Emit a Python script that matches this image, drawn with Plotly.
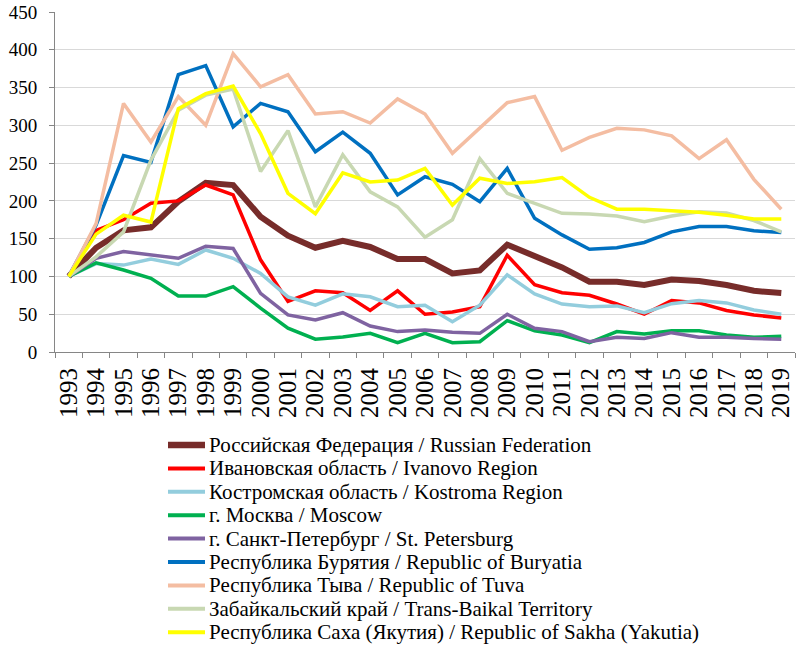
import plotly.graph_objects as go

years = [str(y) for y in range(1993, 2020)]

russia = [100, 138, 161, 165, 199, 224, 221, 179, 154, 138, 147, 139, 123, 123, 104, 108, 142, 127,
          112, 93, 93, 88.6, 96, 94, 88.6, 81, 78]
ivanovo = [100, 161, 175, 197, 200, 221, 208, 122, 67, 81, 78.5, 55, 81, 50, 53, 60, 128, 89,
           78.5, 75, 63.5, 50, 68, 65, 55, 49, 45]
kostroma = [100, 117, 115, 123, 116, 135, 124, 104, 73, 62, 77, 73, 60, 62, 40, 62, 102, 77,
            63.5, 60, 61, 52, 64, 68, 65, 55.6, 50]
moscow = [100, 118, 108.5, 97.5, 74, 74, 86.5, 58, 31.5, 17, 20, 24.7, 12.4, 24.7, 12.4, 13.7, 41.5, 28,
          22.5, 12.4, 27, 23.8, 28, 28, 22.5, 19.4, 21]
spb = [100, 124, 133, 129, 124, 140, 137, 77.6, 49, 42.4, 52, 34.4, 27, 29, 26, 24.7, 50, 31.3,
       27, 13.7, 19.4, 18, 25.6, 19.4, 19.4, 18, 16.8]
buryatia = [100, 168, 260, 251, 367, 379, 298, 329, 318, 265, 291, 263, 208, 232, 222, 199, 243, 177,
            155, 136, 138, 145, 159, 166, 166, 160.6, 158]
tuva = [100, 170, 329, 278, 338, 300, 395, 351, 367, 315, 318, 303, 335, 315, 263, 296, 330, 338,
        267, 284, 296, 294, 286, 256, 281, 228.5, 189]
zabaikal = [100, 126, 159, 254, 320, 340, 348, 239, 293, 192, 261, 212, 192, 152, 175, 256, 210, 197,
            183.5, 182.6, 180, 172.5, 180, 185.7, 184, 174, 159]
sakha = [100, 156, 181, 172, 322, 342, 352, 289, 210, 183, 237, 225, 227.6, 243, 194.5, 230, 223, 225.4,
         231, 204.7, 189, 189, 187, 185, 181, 176, 176]

names = [
    "Российская Федерация / Russian Federation",
    "Ивановская область / Ivanovo Region",
    "Костромская область / Kostroma Region",
    "г. Москва / Moscow",
    "г. Санкт-Петербург / St. Petersburg",
    "Республика Бурятия / Republic of Buryatia",
    "Республика Тыва / Republic of Tuva",
    "Забайкальский край / Trans-Baikal Territory",
    "Республика Саха (Якутия) / Republic of Sakha (Yakutia)",
]
series = [russia, ivanovo, kostroma, moscow, spb, buryatia, tuva, zabaikal, sakha]
colors = ["#772C2A", "#FF0000", "#93CDDD", "#00B050", "#7F63A1", "#0070C0", "#F4BDA2", "#C8D8B2", "#FFFF00"]
widths = [6, 3.5, 3.5, 3.5, 3.5, 3.5, 3.5, 3.5, 3.5]

FONT = "Liberation Serif, Times New Roman, serif"

W, H = 798, 647
L, R, T, B = 55, 3, 12, 295
PW, PH = W - L - R, H - T - B

fig = go.Figure()
for n, s, c, w in zip(names, series, colors, widths):
    fig.add_trace(go.Scatter(x=years, y=s, name=n, mode="lines",
                             line=dict(color=c, width=w), showlegend=False))

# Legend below the plot, laid out in paper coordinates
leg_x0, leg_x1, leg_tx = 168, 205, 207
leg_y0, leg_dy = 445, 23.4
shapes, annots = [], []
for i, (n, c, w) in enumerate(zip(names, colors, widths)):
    py = leg_y0 + i * leg_dy
    yp = (H - B - py) / PH
    shapes.append(dict(type="line", xref="paper", yref="paper",
                       x0=(leg_x0 - L) / PW, x1=(leg_x1 - L) / PW, y0=yp, y1=yp,
                       line=dict(color=c, width=w + 0.5)))
    annots.append(dict(xref="paper", yref="paper", x=(leg_tx - L) / PW, y=yp,
                       xanchor="left", yanchor="middle", text=n, showarrow=False,
                       font=dict(family=FONT, size=21, color="black")))

fig.update_layout(
    width=W, height=H,
    margin=dict(l=L, r=R, t=T, b=B, autoexpand=False),
    paper_bgcolor="white", plot_bgcolor="white",
    font=dict(family=FONT, color="black"),
    showlegend=False,
    shapes=shapes, annotations=annots,
)
fig.update_xaxes(
    type="category", tickmode="linear", tick0=0, dtick=1,
    tickson="boundaries", ticks="outside", ticklen=5,
    tickcolor="#868686", showline=True, linecolor="#868686", linewidth=1,
    showgrid=False, tickangle=-90, tickfont=dict(family=FONT, size=25, color="black"),
    ticklabelstandoff=5,
    range=[-0.5, 26.5],
)
fig.update_yaxes(
    range=[0, 450], dtick=50, ticks="outside", ticklen=5, tickcolor="#868686",
    showline=True, linecolor="#868686", linewidth=1,
    showgrid=True, gridcolor="#D9D9D9", gridwidth=1.3, zeroline=False,
    tickfont=dict(family=FONT, size=19, color="black"),
    ticklabelstandoff=8,
)

fig.write_html("out.html", config={"displayModeBar": False},
               post_script="document.body.style.margin='0';document.body.style.overflow='hidden';")
